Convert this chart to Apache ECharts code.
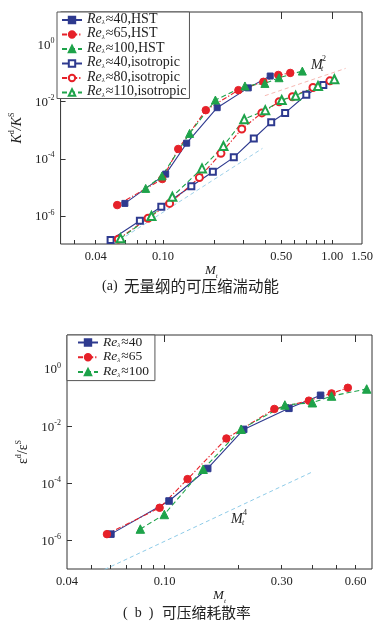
<!DOCTYPE html>
<html><head><meta charset="utf-8">
<script src="https://cdn.jsdelivr.net/npm/echarts@6/dist/echarts.min.js"></script>
<style>html,body{margin:0;padding:0;background:#fff}#c{width:383px;height:626px}</style>
</head><body><div id="c"></div>
<script>
// ===== (a) compressible turbulent kinetic energy =====
const hst40_x = [0.0595, 0.1037, 0.138, 0.209, 0.319, 0.430];
const hst40_y = [2.75e-6, 2.9e-5, 3.5e-4, 6.1e-3, 0.030, 0.078];
const hst65_x = [0.0536, 0.099, 0.123, 0.179, 0.279, 0.392, 0.480, 0.565];
const hst65_y = [2.4e-6, 1.95e-5, 2.2e-4, 5.0e-3, 0.025, 0.049, 0.085, 0.10];
const hst100_x = [0.079, 0.0986, 0.1436, 0.204, 0.305, 0.40, 0.485, 0.666];
const hst100_y = [9.2e-6, 2.5e-5, 7.7e-4, 0.0113, 0.035, 0.043, 0.068, 0.116];
const iso40_x = [0.049, 0.073, 0.0977, 0.147, 0.197, 0.262, 0.344, 0.436, 0.527, 0.703, 0.886];
const iso40_y = [1.44e-7, 6.8e-7, 2.1e-6, 1.1e-5, 3.5e-5, 1.12e-4, 5.1e-4, 1.9e-3, 4.0e-3, 0.0173, 0.038];
const iso80_x = [0.0544, 0.0816, 0.1094, 0.164, 0.220, 0.292, 0.384, 0.486, 0.582, 0.770, 0.969];
const iso80_y = [1.55e-7, 8.3e-7, 2.75e-6, 2.2e-5, 1.55e-4, 1.1e-3, 4.0e-3, 9.8e-3, 0.0147, 0.031, 0.053];
const iso110_x = [0.0561, 0.0854, 0.1135, 0.170, 0.2275, 0.302, 0.402, 0.503, 0.608, 0.824, 1.03];
const iso110_y = [1.65e-7, 1.0e-6, 4.7e-6, 4.6e-5, 2.8e-4, 2.4e-3, 5.0e-3, 0.0113, 0.016, 0.035, 0.060];
const refA2_x = [0.40, 1.20];      // ~ Mt^2 guide
const refA2_y = [0.016, 0.144];
const refA4_x = [0.0556, 0.387];   // steep guide
const refA4_y = [1.45e-7, 2.3e-4];

// ===== (b) compressible dissipation rate =====
const b40_x = [0.0604, 0.1042, 0.1498, 0.210, 0.321, 0.432];
const b40_y = [1.66e-6, 2.4e-5, 3.3e-4, 7.7e-3, 0.042, 0.12];
const b65_x = [0.0582, 0.0954, 0.124, 0.1786, 0.280, 0.387, 0.479, 0.558];
const b65_y = [1.66e-6, 1.39e-5, 1.4e-4, 3.7e-3, 0.040, 0.078, 0.14, 0.22];
const b100_x = [0.0796, 0.0997, 0.1435, 0.205, 0.309, 0.40, 0.479, 0.666];
const b100_y = [2.5e-6, 8.1e-6, 3.1e-4, 7.8e-3, 0.055, 0.066, 0.113, 0.20];
const refB4_x = [0.0569, 0.40];
const refB4_y = [9.6e-8, 2.5e-4];

// ===== ticks / labels =====
const xTicksA = [0.03,0.04,0.05,0.06,0.07,0.08,0.09,0.1,0.2,0.3,0.4,0.5,0.6,0.7,0.8,0.9,1.0];
const xMajorA = [0.04, 0.1, 0.5, 1.0];
const xLabelsA = [0.04, 0.1, 0.5, 1.0, 1.5];
const xTicksB = [0.05,0.06,0.07,0.08,0.09,0.1,0.2,0.3,0.4,0.5,0.6];
const xMajorB = [0.1, 0.3, 0.6];
const xLabelsB = [0.04, 0.1, 0.3, 0.6];
const yLabels = [1e-6, 1e-4, 1e-2, 1];

const BLUE = '#2e3a8f', RED = '#e62129', GREEN = '#1ea34a';
const SERIF = 'Liberation Serif';
const zip = (xs, ys) => xs.map((x, i) => [x, ys[i]]);

const supRich = {
  b: {fontFamily: SERIF, fontSize: 13, color: '#222', lineHeight: 15, verticalAlign: 'bottom'},
  s: {fontFamily: SERIF, fontSize: 8, color: '#222', lineHeight: 8, verticalAlign: 'top'}
};
function legRich(fs, lh) {
  return {
    i: {fontFamily: SERIF, fontStyle: 'italic', fontSize: fs, color: '#222', lineHeight: lh, verticalAlign: 'bottom'},
    s: {fontFamily: SERIF, fontStyle: 'italic', fontSize: 7, color: '#222', lineHeight: 7, verticalAlign: 'bottom', padding: [0, 1, 0, 0]},
    n: {fontFamily: SERIF, fontSize: fs, color: '#222', lineHeight: lh, verticalAlign: 'bottom'}
  };
}
const nameRich = {
  k: {fontFamily: SERIF, fontStyle: 'italic', fontSize: 14, color: '#222', lineHeight: 16, verticalAlign: 'bottom'},
  e: {fontFamily: SERIF, fontSize: 14, color: '#222', lineHeight: 16, verticalAlign: 'bottom'},
  sup: {fontFamily: SERIF, fontSize: 8, color: '#222', lineHeight: 8, verticalAlign: 'top'},
  m: {fontFamily: SERIF, fontStyle: 'italic', fontSize: 13, color: '#222', lineHeight: 14, verticalAlign: 'top'},
  sub: {fontFamily: SERIF, fontStyle: 'italic', fontSize: 7, color: '#222', lineHeight: 16, verticalAlign: 'top', padding: [9, 0, 0, 0]}
};
const expFmt = v => '{b|10}{s|' + Math.round(Math.log10(v)) + '}';

function xMain(grid, min, max, ticks, labels) {
  return {
    type: 'log', gridIndex: grid, min: min, max: max, logBase: 10,
    axisLine: {show: false},
    splitLine: {show: false},
    axisTick: {show: true, inside: true, length: 4, customValues: ticks, lineStyle: {color: '#333'}},
    axisLabel: {customValues: labels, formatter: v => Number(v).toFixed(2), fontFamily: SERIF, fontSize: 12.5, color: '#222', margin: 6},
    name: '{m|M}{sub|t}', nameLocation: 'middle', nameGap: 11,
    nameTextStyle: {rich: nameRich}
  };
}
function xMajor(grid, min, max, ticks) {
  return {
    type: 'log', gridIndex: grid, min: min, max: max, logBase: 10,
    axisLine: {show: false}, splitLine: {show: false},
    axisTick: {show: true, inside: true, length: 7, customValues: ticks, lineStyle: {color: '#333'}},
    axisLabel: {show: false}
  };
}
function yAx(grid, min, max, nm) {
  return {
    type: 'log', gridIndex: grid, min: min, max: max, logBase: 10,
    axisLine: {show: false}, splitLine: {show: false},
    axisTick: {show: true, inside: true, length: 5, customValues: yLabels, lineStyle: {color: '#333'}},
    axisLabel: {customValues: yLabels, formatter: expFmt, rich: supRich, margin: 6},
    name: nm, nameLocation: 'middle', nameGap: 28,
    nameTextStyle: {rich: nameRich}
  };
}

function dataSeries(name, xs, ys, xi, yi, color, symbol, size, dash) {
  return {
    name: name, type: 'line', xAxisIndex: xi, yAxisIndex: yi,
    data: zip(xs, ys), symbol: symbol, symbolSize: size, z: 5,
    lineStyle: {color: color, width: 1.1, type: dash},
    itemStyle: {color: color, borderColor: color, borderWidth: 1}
  };
}
function refSeries(xs, ys, xi, yi, color) {
  return {
    type: 'line', xAxisIndex: xi, yAxisIndex: yi, data: zip(xs, ys),
    symbol: 'none', silent: true, z: 1,
    lineStyle: {color: color, width: 1, type: [4, 3]}
  };
}

const DASHDOT = [5, 2, 1.2, 2];
const DASH = [5, 3];

const series = [
  refSeries(refA2_x, refA2_y, 0, 0, '#f6b9b3'),
  refSeries(refA4_x, refA4_y, 0, 0, '#9dd0ea'),
  dataSeries('≈40,HST', hst40_x, hst40_y, 0, 0, BLUE, 'rect', 6, 'solid'),
  dataSeries('≈65,HST', hst65_x, hst65_y, 0, 0, RED, 'circle', 7.5, DASHDOT),
  dataSeries('≈100,HST', hst100_x, hst100_y, 0, 0, GREEN, 'triangle', 8, DASH),
  dataSeries('≈40,isotropic', iso40_x, iso40_y, 0, 0, BLUE, 'emptyRect', 6, 'solid'),
  dataSeries('≈80,isotropic', iso80_x, iso80_y, 0, 0, RED, 'emptyCircle', 7, DASHDOT),
  dataSeries('≈110,isotropic', iso110_x, iso110_y, 0, 0, GREEN, 'emptyTriangle', 8, DASH),
  refSeries(refB4_x, refB4_y, 2, 1, '#8ecbe8'),
  dataSeries('≈40', b40_x, b40_y, 2, 1, BLUE, 'rect', 6.5, 'solid'),
  dataSeries('≈65', b65_x, b65_y, 2, 1, RED, 'circle', 7.5, DASHDOT),
  dataSeries('≈100', b100_x, b100_y, 2, 1, GREEN, 'triangle', 8.5, DASH)
];

const legendBase = {
  orient: 'vertical', itemWidth: 20, itemHeight: 8,
  borderColor: '#555', borderWidth: 1, backgroundColor: '#fff', borderRadius: 0,
  formatter: n => '{i|Re}{s|λ}{n|' + n + '}',
  selectedMode: false, z: 10
};

const mStyle = {fontFamily: SERIF, fontStyle: 'italic', fontSize: 14, fill: '#222'};
const smallStyle = {fontFamily: SERIF, fontSize: 8, fill: '#222'};
const smallItalic = {fontFamily: SERIF, fontStyle: 'italic', fontSize: 8, fill: '#222'};
const capP = {fontFamily: SERIF, fontSize: 14, fill: '#222'};
const capC = {fontFamily: 'Noto Sans CJK SC', fontSize: 15, fill: '#222'};

const option = {
  animation: false,
  backgroundColor: '#fff',
  grid: [
    {left: 57, top: 12, width: 305, height: 232, show: true, borderColor: '#333', borderWidth: 1, backgroundColor: 'transparent'},
    {left: 67, top: 335, width: 305, height: 234, show: true, borderColor: '#333', borderWidth: 1, backgroundColor: 'transparent'}
  ],
  xAxis: [
    xMain(0, 0.0248, 1.5, xTicksA, xLabelsA),
    xMajor(0, 0.0248, 1.5, xMajorA),
    xMain(1, 0.04, 0.70, xTicksB, xLabelsB),
    xMajor(1, 0.04, 0.70, xMajorB)
  ],
  yAxis: [
    yAx(0, Math.pow(10, -6.98), Math.pow(10, 1.13), '{k|K}{sup|d}{k|/K}{sup|S}'),
    yAx(1, Math.pow(10, -7.0), Math.pow(10, 1.19), '{e|ε}{sup|d}{e|/ε}{sup|S}')
  ],
  legend: [
    Object.assign({}, legendBase, {left: 57, top: 12, padding: [0, 3, 0, 4], itemGap: 0.5,
      textStyle: {rich: legRich(14, 12)},
      data: ['≈40,HST', '≈65,HST', '≈100,HST', '≈40,isotropic', '≈80,isotropic', '≈110,isotropic']}),
    Object.assign({}, legendBase, {left: 67, top: 335, padding: [0, 6, 2, 10], itemGap: 0.8,
      textStyle: {rich: legRich(13.5, 13)},
      data: ['≈40', '≈65', '≈100']})
  ],
  graphic: [
    {type: 'text', left: 311, top: 58, z: 20, style: Object.assign({text: 'M'}, mStyle)},
    {type: 'text', left: 322, top: 55, z: 20, style: Object.assign({text: '2'}, smallStyle)},
    {type: 'text', left: 321, top: 65, z: 20, style: Object.assign({text: 't'}, smallItalic)},
    {type: 'text', left: 231, top: 512, z: 20, style: Object.assign({text: 'M'}, mStyle)},
    {type: 'text', left: 243, top: 509, z: 20, style: Object.assign({text: '4'}, smallStyle)},
    {type: 'text', left: 242, top: 519, z: 20, style: Object.assign({text: 't'}, smallItalic)},
    {type: 'text', left: 102, top: 279, z: 20, style: Object.assign({text: '(a)'}, capP)},
    {type: 'text', left: 124, top: 278, z: 20, style: Object.assign({text: '无量纲的可压缩湍动能'}, capC, {fontSize: 15.5})},
    {type: 'text', left: 123, top: 606, z: 20, style: Object.assign({text: '(  b  )'}, capP)},
    {type: 'text', left: 162, top: 605, z: 20, style: Object.assign({text: '可压缩耗散率'}, capC, {fontSize: 14.8})}
  ],
  series: series
};

const chart = echarts.init(document.getElementById('c'), null, {renderer: 'canvas'});
chart.setOption(option);
</script>
</body></html>
